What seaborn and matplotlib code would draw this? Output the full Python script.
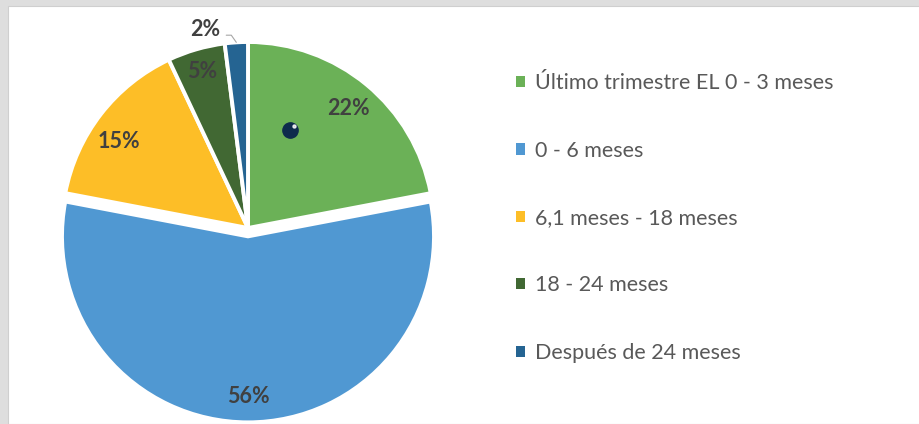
import numpy as np
import matplotlib
matplotlib.use('Agg')
import matplotlib.pyplot as plt
import matplotlib.patches as mpatches
import seaborn as sns

# ~ data
categories = ['Último trimestre EL 0 - 3 meses', '0 - 6 meses',
              '6,1 meses - 18 meses', '18 - 24 meses', 'Después de 24 meses']
shares = [22, 56, 15, 5, 2]
colors = ['#6BB157', '#5098D2', '#FDBE27', '#416833', '#256492']

sns.set_theme(style='white')
plt.rcParams['font.family'] = ['Lato', 'DejaVu Sans']

W, H, DPI = 920, 424, 100
fig = plt.figure(figsize=(W / DPI, H / DPI), dpi=DPI, facecolor='#DEDEDE')

# white card on the gray background
fig.patches.append(mpatches.Rectangle((8 / W, 0), 1, 1 - 6 / H, transform=fig.transFigure,
                                      facecolor='white', edgecolor='#CFCFCF', lw=0.8, zorder=-1))

# axes over the whole figure, 1 data unit = pie radius (186 px)
R = 186.0
cx, cy = 248.0, 196.0
ax = fig.add_axes([0, 0, 1, 1])
ax.set_zorder(1)
ax.set_facecolor('none')

explode = [0, 0.045, 0, 0, 0]
wedges, _ = ax.pie(shares, colors=colors, startangle=90, counterclock=False,
                   explode=explode, radius=1.0,
                   wedgeprops=dict(edgecolor='white', linewidth=2.8))
ax.set_xlim(-cx / R, (W - cx) / R)
ax.set_ylim(-cy / R, (H - cy) / R)
ax.set_aspect('equal')
ax.axis('off')

# ~ percentage labels, placed along each wedge's middle angle
label_dist = [0.85, 0.85, 0.84, 0.89]
label_turn = [0, 0, 3.5, 0]
for w, d, t, s in zip(wedges[:4], label_dist, label_turn, shares[:4]):
    ang = np.deg2rad((w.theta1 + w.theta2) / 2 + t)
    x0, y0 = w.center
    ax.text(x0 + d * np.cos(ang), y0 + d * np.sin(ang), f'{s}%', ha='center',
            va='center_baseline', fontsize=15.5, fontweight='bold', color='#404040')

# last small slice gets an outside label with a leader line
w = wedges[4]
mid = (w.theta1 + w.theta2) / 2
tip = (np.cos(np.deg2rad(mid)), np.sin(np.deg2rad(mid)))
txt = (1.1 * np.cos(np.deg2rad(mid + 8.5)), 1.1 * np.sin(np.deg2rad(mid + 8.5)))
ax.annotate(f'{shares[4]}%', xy=tip, xytext=txt, ha='center', va='center_baseline',
            fontsize=15.5, fontweight='bold', color='#404040',
            arrowprops=dict(arrowstyle='-', color='#A6A6A6', lw=0.8, relpos=(1, 0.25),
                            shrinkA=2, shrinkB=0,
                            connectionstyle='angle,angleA=0,angleB=-55,rad=0'))

# little navy pin visible on the green slice
ax.plot(0.226, 0.527, 'o', ms=11, color='#0D2B4C', zorder=5)
ax.plot(0.248, 0.55, 'o', ms=2.2, color='white', alpha=0.8, zorder=6)

handles = [mpatches.Patch(facecolor=c, edgecolor='none') for c in colors]
leg = fig.legend(handles, categories, loc='upper left', bbox_to_anchor=(497 / W, 1 - 54 / H),
                 frameon=False, fontsize=15.5, labelcolor='#595959',
                 handlelength=0.42, handleheight=0.42, handletextpad=0.45,
                 labelspacing=2.2)

fig.savefig('out.png', dpi=DPI, facecolor=fig.get_facecolor())
